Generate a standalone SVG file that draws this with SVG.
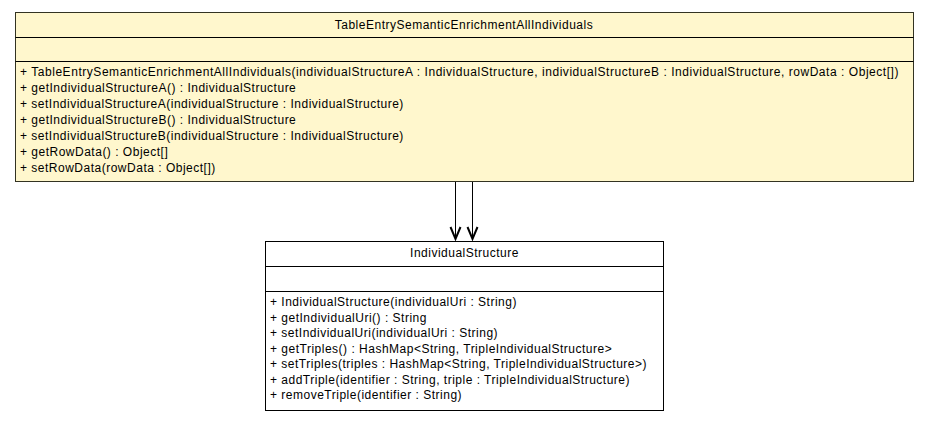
<svg xmlns="http://www.w3.org/2000/svg" width="928" height="421" viewBox="0 0 928 421">
<style>
text{font-family:"Liberation Sans",Arial,Helvetica,sans-serif;font-size:12px;letter-spacing:0.5px;fill:#000}
.title{text-anchor:middle}
.cls{stroke:#000;stroke-width:1}
.yel{fill:#fff7cd;stroke:#333322}
.wht{fill:#fff}
.edge{stroke:#000;stroke-width:1;fill:none}
.head{stroke:#000;stroke-width:2;fill:none;stroke-linejoin:miter}
</style>
<rect width="928" height="421" fill="#fff"/>
<g id="TableEntrySemanticEnrichmentAllIndividuals">
<rect class="cls yel" x="15.5" y="12.5" width="898" height="169"/>
<line class="cls" x1="15.5" y1="37.5" x2="913.5" y2="37.5"/>
<line class="cls" x1="15.5" y1="61.5" x2="913.5" y2="61.5"/>
<text class="title" x="464" y="29">TableEntrySemanticEnrichmentAllIndividuals</text>
<text x="20" y="76" textLength="879" lengthAdjust="spacing">+ TableEntrySemanticEnrichmentAllIndividuals(individualStructureA : IndividualStructure, individualStructureB : IndividualStructure, rowData : Object[])</text>
<text x="20" y="92">+ getIndividualStructureA() : IndividualStructure</text>
<text x="20" y="108">+ setIndividualStructureA(individualStructure : IndividualStructure)</text>
<text x="20" y="124">+ getIndividualStructureB() : IndividualStructure</text>
<text x="20" y="140">+ setIndividualStructureB(individualStructure : IndividualStructure)</text>
<text x="20" y="156">+ getRowData() : Object[]</text>
<text x="20" y="172">+ setRowData(rowData : Object[])</text>
</g>
<g id="IndividualStructure">
<rect class="cls wht" x="265.5" y="241.5" width="398" height="169"/>
<line class="cls" x1="265.5" y1="266.5" x2="663.5" y2="266.5"/>
<line class="cls" x1="265.5" y1="291.5" x2="663.5" y2="291.5"/>
<text class="title" x="464.5" y="257">IndividualStructure</text>
<text x="270" y="306">+ IndividualStructure(individualUri : String)</text>
<text x="270" y="321.5">+ getIndividualUri() : String</text>
<text x="270" y="337">+ setIndividualUri(individualUri : String)</text>
<text x="270" y="352.5">+ getTriples() : HashMap&lt;String, TripleIndividualStructure&gt;</text>
<text x="270" y="368">+ setTriples(triples : HashMap&lt;String, TripleIndividualStructure&gt;)</text>
<text x="270" y="383.5">+ addTriple(identifier : String, triple : TripleIndividualStructure)</text>
<text x="270" y="399">+ removeTriple(identifier : String)</text>
</g>
<g id="connectors">
<line class="edge" x1="455.5" y1="182" x2="455.5" y2="238"/>
<path class="head" d="M450.5,227 L455.5,239 L460.5,227"/>
<line class="edge" x1="472.5" y1="182" x2="472.5" y2="238"/>
<path class="head" d="M467.5,227 L472.5,239 L477.5,227"/>
</g>
</svg>
